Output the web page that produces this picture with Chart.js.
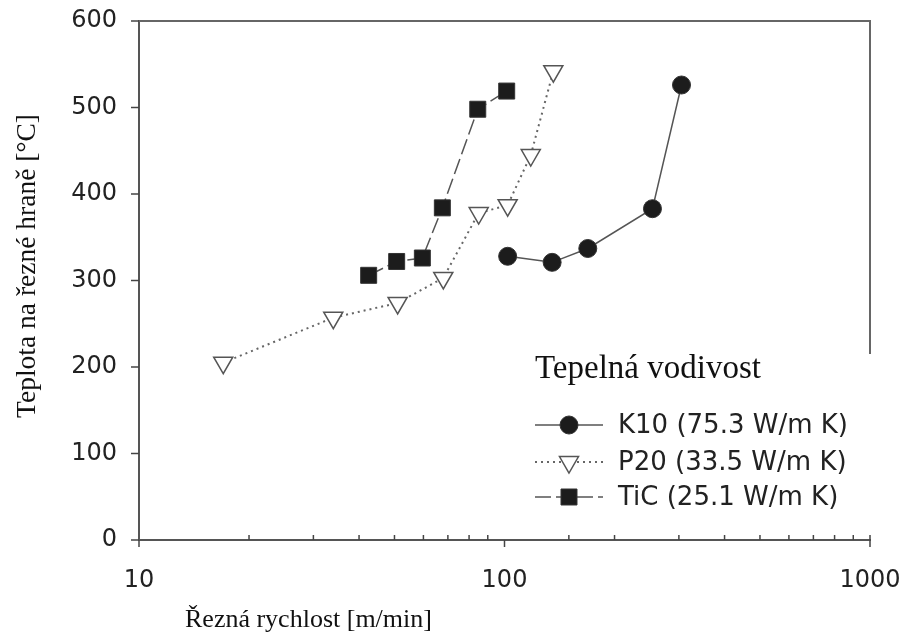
<!DOCTYPE html>
<html>
<head>
<meta charset="utf-8">
<script src="https://cdn.jsdelivr.net/npm/chart.js@4/dist/chart.umd.min.js"></script>
<style>
  body { margin: 0; background: #fff; }
  #wrap { width: 905px; height: 636px; }
</style>
</head>
<body>
<div id="wrap"><canvas id="chart"></canvas></div>
<script>
// values
const k10Speed = [102, 135, 169, 254, 305];
const k10Temp = [328, 321, 337, 383, 526];
const p20Speed = [17, 34, 51, 68, 85, 102, 118, 136];
const p20Temp = [205, 257, 274, 303, 378, 387, 445, 542];
const ticSpeed = [42.5, 50.7, 59.6, 67.6, 84.5, 101.4];
const ticTemp = [306, 322, 326, 384, 498, 519];

const seriesNames = ['K10 (75.3 W/m K)', 'P20 (33.5 W/m K)', 'TiC (25.1 W/m K)'];
const xTickLabels = [10, 100, 1000];
const legendTitle = 'Tepelná vodivost';
const xTitle = 'Řezná rychlost [m/min]';
const yTitle = 'Teplota na řezné hraně [°C]';

const toPoints = (xs, ys) => xs.map((x, i) => ({ x: x, y: ys[i] }));

const sans = 'DejaVu Sans';
const serif = 'Liberation Serif';

// frame, inner/outer ticks, axis titles and the legend box
const extras = {
    id: 'extras',
    afterDraw(chart) {
        const ctx = chart.ctx;
        const a = chart.chartArea;
        const xs = chart.scales.x;
        const ys = chart.scales.y;
        ctx.save();
        ctx.strokeStyle = '#666';
        ctx.lineWidth = 2;
        ctx.beginPath();
        ctx.moveTo(a.left, a.top);
        ctx.lineTo(a.right, a.top);
        ctx.lineTo(a.right, ys.getPixelForValue(215));
        ctx.stroke();

        ctx.lineWidth = 1.5;
        ctx.strokeStyle = '#444';
        xs.ticks.forEach(t => {
            const px = xs.getPixelForValue(t.value);
            const major = Math.abs(Math.log10(t.value) - Math.round(Math.log10(t.value))) < 1e-6;
            ctx.beginPath();
            if (major) {
                ctx.moveTo(px, a.bottom);
                ctx.lineTo(px, a.bottom + 7);
                if (t.value === 1000) {
                    ctx.moveTo(px, a.bottom);
                    ctx.lineTo(px, a.bottom - 5);
                }
            } else {
                ctx.moveTo(px, a.bottom);
                ctx.lineTo(px, a.bottom - 5);
            }
            ctx.stroke();
        });
        ys.ticks.forEach(t => {
            const py = ys.getPixelForValue(t.value);
            ctx.beginPath();
            ctx.moveTo(a.left, py);
            ctx.lineTo(a.left - 8, py);
            ctx.stroke();
        });

        // axis titles
        ctx.fillStyle = '#111';
        ctx.font = '26px "' + serif + '"';
        ctx.textAlign = 'left';
        ctx.textBaseline = 'middle';
        ctx.fillText(xTitle, 185, 620);
        ctx.save();
        ctx.translate(28, 266);
        ctx.rotate(-Math.PI / 2);
        ctx.textAlign = 'center';
        ctx.font = '27.5px "' + serif + '"';
        ctx.fillText(yTitle, 0, 0);
        ctx.restore();

        // legend
        ctx.font = '33px "' + serif + '"';
        ctx.textAlign = 'left';
        ctx.fillText(legendTitle, 535, 369);
        const rows = [425, 462, 497];
        chart.data.datasets.forEach((ds, i) => {
            const y = rows[i];
            ctx.save();
            ctx.strokeStyle = ds.borderColor;
            ctx.lineWidth = ds.borderWidth;
            ctx.setLineDash(ds.borderDash || []);
            ctx.beginPath();
            ctx.moveTo(535, y);
            ctx.lineTo(603, y);
            ctx.stroke();
            ctx.restore();
            ctx.save();
            ctx.fillStyle = ds.pointBackgroundColor;
            ctx.strokeStyle = ds.pointBorderColor;
            ctx.lineWidth = ds.pointBorderWidth;
            Chart.helpers.drawPoint(ctx, {
                pointStyle: ds.pointStyle,
                radius: ds.pointRadius,
                rotation: ds.pointRotation || 0,
                borderWidth: ds.pointBorderWidth
            }, 569, y);
            ctx.restore();
            ctx.fillStyle = '#222';
            ctx.font = '26px "' + sans + '"';
            ctx.fillText(ds.label, 618, y + 1);
        });
        ctx.restore();
    }
};

const ctx = document.getElementById('chart').getContext('2d');
const chart = new Chart(ctx, {
    type: 'line',
    data: {
        datasets: [{
            label: seriesNames[0],
            data: toPoints(k10Speed, k10Temp),
            borderColor: '#555',
            borderWidth: 1.5,
            pointStyle: 'circle',
            pointRadius: 9,
            pointBackgroundColor: '#1c1c1c',
            pointBorderColor: '#333',
            pointBorderWidth: 1
        }, {
            label: seriesNames[1],
            data: toPoints(p20Speed, p20Temp),
            borderColor: '#666',
            borderWidth: 2,
            borderDash: [2, 4],
            pointStyle: 'triangle',
            pointRotation: 180,
            pointRadius: 11,
            pointBackgroundColor: '#fff',
            pointBorderColor: '#555',
            pointBorderWidth: 1.5
        }, {
            label: seriesNames[2],
            data: toPoints(ticSpeed, ticTemp),
            borderColor: '#555',
            borderWidth: 1.5,
            borderDash: [16, 5],
            pointStyle: 'rect',
            pointRadius: 11.3,
            pointBackgroundColor: '#1c1c1c',
            pointBorderColor: '#333',
            pointBorderWidth: 1
        }]
    },
    options: {
        responsive: true,
        maintainAspectRatio: false,
        animation: false,
        layout: { padding: { left: 0, top: 21, right: 35, bottom: 0 } },
        plugins: { legend: { display: false }, tooltip: { enabled: false } },
        elements: { line: { tension: 0, fill: false } },
        scales: {
            x: {
                type: 'logarithmic',
                min: 10,
                max: 1000,
                afterFit: s => { s.height = 96; s.paddingLeft = 0; s.paddingRight = 0; },
                grid: { drawOnChartArea: false, drawTicks: false },
                border: { color: '#555', width: 2 },
                ticks: {
                    autoSkip: false,
                    maxRotation: 0,
                    padding: 26,
                    color: '#222',
                    font: { family: sans, size: 24 },
                    callback: v => xTickLabels.includes(v) ? String(v) : ''
                }
            },
            y: {
                min: 0,
                max: 600,
                afterFit: s => { s.width = 139; s.paddingTop = 0; s.paddingBottom = 0; },
                grid: { drawOnChartArea: false, drawTicks: false },
                border: { color: '#555', width: 2 },
                ticks: {
                    stepSize: 100,
                    padding: 22,
                    color: '#222',
                    font: { family: sans, size: 24 }
                }
            }
        }
    },
    plugins: [extras]
});
</script>
</body>
</html>
